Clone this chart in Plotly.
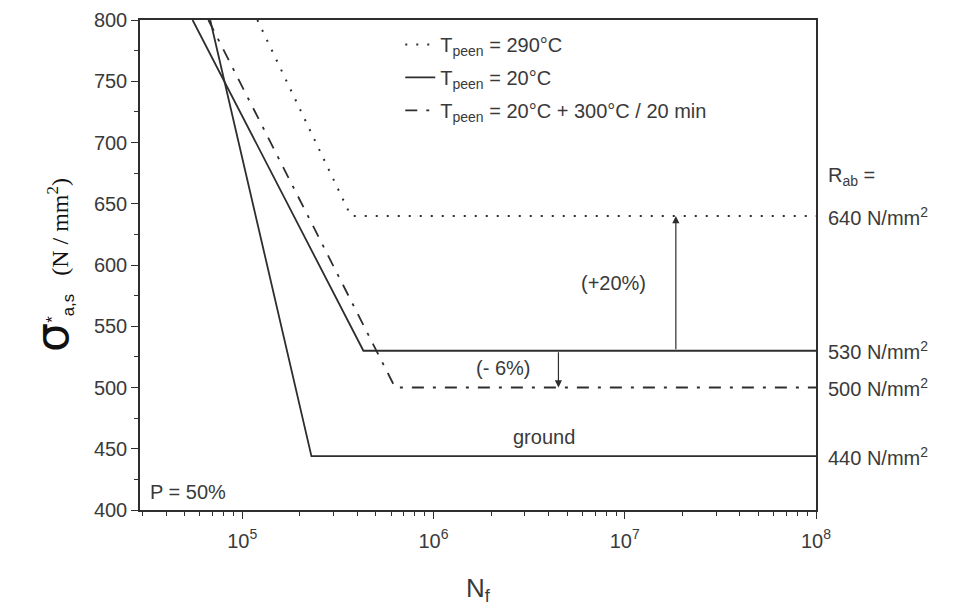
import numpy as np
import plotly.graph_objects as go

# ---- data ----
N_290 = [1.2e5, 3.7e5, 1e8]
S_290 = [800, 640, 640]
N_20 = [5.5e4, 4.3e5, 1e8]
S_20 = [800, 530, 530]
N_20_300 = [6.65e4, 6.3e5, 1e8]
S_20_300 = [800, 500, 500]
N_ground = [6.8e4, 2.3e5, 1e8]
S_ground = [800, 444, 444]

names = ["T<sub>peen</sub> = 290°C", "T<sub>peen</sub> = 20°C",
         "T<sub>peen</sub> = 20°C + 300°C / 20 min"]
rab_values = [640, 530, 500, 440]
rab_positions = [S_290[-1], S_20[-1], S_20_300[-1], S_ground[-1]]

x_major = [1e5, 1e6, 1e7, 1e8]
x_major_text = ["10<sup>5</sup>", "10<sup>6</sup>", "10<sup>7</sup>", "10<sup>8</sup>"]
y_ticks = [400, 450, 500, 550, 600, 650, 700, 750, 800]

arrow_up_N = 1.85e7
arrow_down_N = 4.5e6

LINE = "#2e2e2e"
TXT = "#3a3a3a"
FONT = "Liberation Sans, Arial, sans-serif"

fig = go.Figure()
fig.add_trace(go.Scatter(x=N_290, y=S_290, mode="lines", name=names[0], legendgroup="a",
                         line=dict(color=LINE, width=2, dash="2px,9px")))
fig.add_trace(go.Scatter(x=N_20, y=S_20, mode="lines", name=names[1], legendgroup="b",
                         line=dict(color=LINE, width=1.8)))
fig.add_trace(go.Scatter(x=N_20_300, y=S_20_300, mode="lines", name=names[2], legendgroup="c",
                         line=dict(color=LINE, width=1.8, dash="12px,9px,3px,9px")))
fig.add_trace(go.Scatter(x=N_ground, y=S_ground, mode="lines", name="ground",
                         showlegend=False, line=dict(color=LINE, width=1.8)))

minor_x = [m * 10**e for e in range(4, 8) for m in range(2, 10)]

annotations = []
# right-hand strength labels
annotations.append(dict(x=1.0, xref="paper", y=rab_positions[0], yref="y",
                        text="R<sub>ab</sub> =", showarrow=False, xanchor="left",
                        xshift=10, yshift=40, font=dict(size=20, color=TXT, family=FONT)))
for v, p in zip(rab_values, rab_positions):
    annotations.append(dict(x=1.0, xref="paper", y=p, yref="y",
                            text=f"{v} N/mm<sup>2</sup>", showarrow=False,
                            xanchor="left", xshift=10,
                            font=dict(size=20, color=TXT, family=FONT)))
# arrows
annotations.append(dict(x=np.log10(arrow_up_N), y=S_290[-1], xref="x", yref="y",
                        ax=np.log10(arrow_up_N), ay=S_20[-1], axref="x", ayref="y",
                        text="", showarrow=True, arrowhead=2, arrowsize=1.2,
                        arrowwidth=1.2, arrowcolor=LINE))
annotations.append(dict(x=np.log10(arrow_down_N), y=S_20_300[-1], xref="x", yref="y",
                        ax=np.log10(arrow_down_N), ay=S_20[-1], axref="x", ayref="y",
                        text="", showarrow=True, arrowhead=2, arrowsize=1.2,
                        arrowwidth=1.2, arrowcolor=LINE))
# texts
annotations.append(dict(x=np.log10(8.75e6), y=585, xref="x", yref="y", text="(+20%)",
                        showarrow=False, font=dict(size=20, color=TXT, family=FONT)))
annotations.append(dict(x=np.log10(2.32e6), y=516, xref="x", yref="y", text="(- 6%)",
                        showarrow=False, font=dict(size=20, color=TXT, family=FONT)))
annotations.append(dict(x=np.log10(3.77e6), y=460, xref="x", yref="y", text="ground",
                        showarrow=False, font=dict(size=20, color=TXT, family=FONT)))
annotations.append(dict(x=0.012, xref="paper", y=415, yref="y", text="P = 50%",
                        xanchor="left", showarrow=False,
                        font=dict(size=20, color=TXT, family=FONT)))

ytitle = ('<span style="font-size:46px;font-family:DejaVu Sans">σ</span>'
          '<sup>*</sup><sub>a,s</sub>'
          '<span style="font-family:Liberation Serif">   (N / mm<sup>2</sup>)</span>')

fig.update_layout(
    width=954, height=615,
    margin=dict(l=132, r=146, t=12, b=113, autoexpand=False),
    paper_bgcolor="white", plot_bgcolor="white",
    font=dict(family=FONT, size=20, color=TXT),
    annotations=annotations,
    legend=dict(x=0.385, y=0.99, xanchor="left", yanchor="top",
                bgcolor="rgba(0,0,0,0)", font=dict(size=20, color=TXT, family=FONT),
                tracegroupgap=4, itemwidth=30),
    xaxis=dict(type="log", range=[np.log10(2.92e4), 8], automargin=False,
               tickvals=x_major, ticktext=x_major_text, ticklabelstandoff=5,
               ticks="outside", ticklen=7, tickcolor=LINE, tickwidth=1.2,
               showline=True, linecolor=LINE, linewidth=1.5, mirror=True,
               showgrid=False, zeroline=False,
               minor=dict(tickvals=minor_x, ticks="outside", ticklen=4,
                          tickcolor=LINE, showgrid=False),
               tickfont=dict(size=20, color=TXT, family=FONT),
               title=dict(text="N<sub>f</sub>", font=dict(size=26, color=TXT, family=FONT),
                          standoff=28)),
    yaxis=dict(range=[400, 800], tickvals=y_ticks, automargin=False,
               ticks="outside", ticklen=7, tickcolor=LINE, tickwidth=1.2,
               showline=True, linecolor=LINE, linewidth=1.5, mirror=True,
               showgrid=False, zeroline=False,
               minor=dict(dtick=25, ticks="outside", ticklen=4, tickcolor=LINE,
                          showgrid=False),
               tickfont=dict(size=20, color=TXT, family=FONT),
               title=dict(text=ytitle, font=dict(size=24, color="#111", family=FONT),
                          standoff=18)),
)

fig.write_html("out.html")
